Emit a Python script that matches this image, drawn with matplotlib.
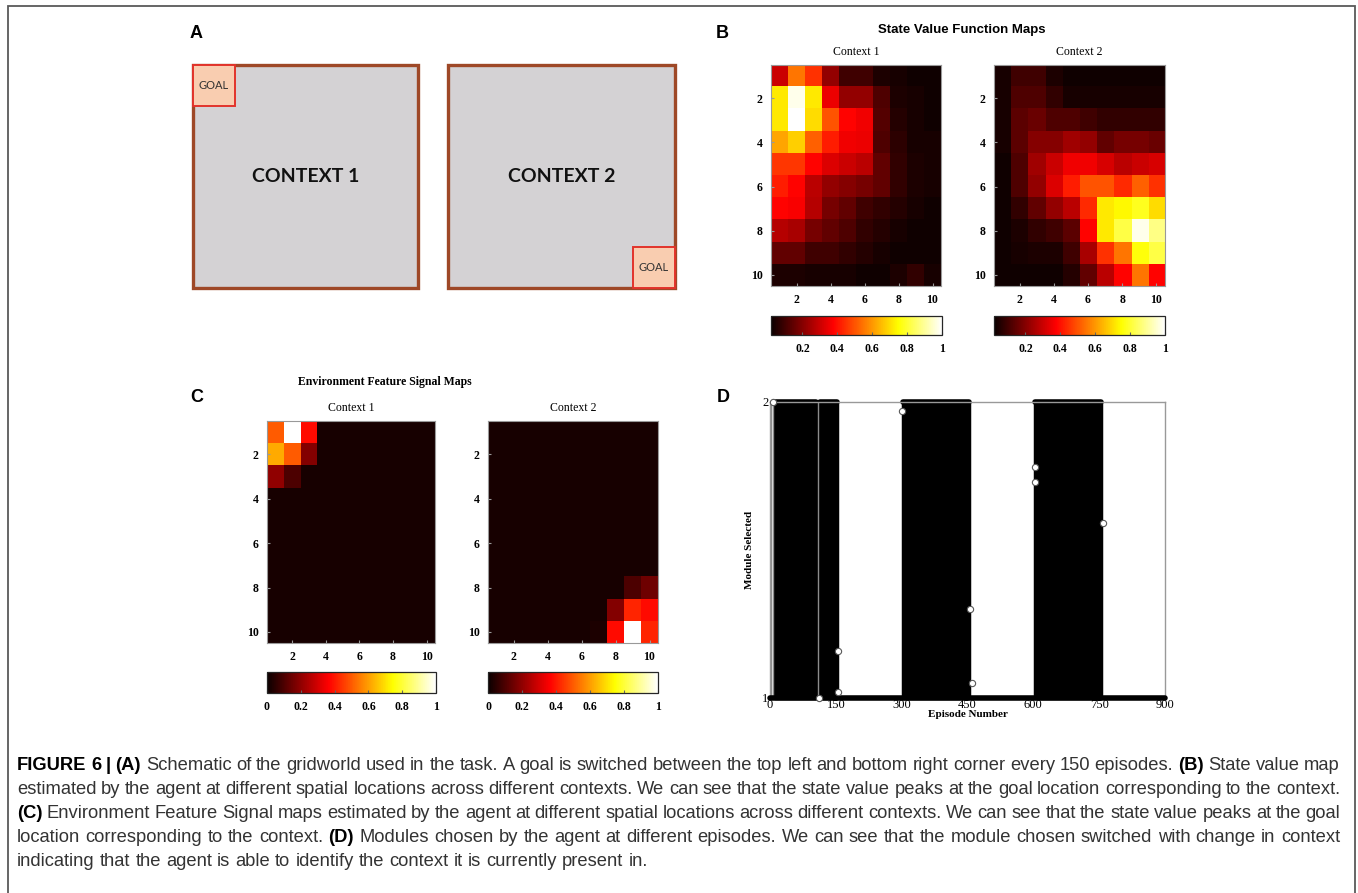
"""
Figure 6 reproduction: gridworld schematic, value maps, feature maps, module switching
"""

import numpy as np
import matplotlib.pyplot as plt
from matplotlib.patches import Rectangle

W, H = 1358, 893

# ============================================================
# DATA
# ============================================================

grid_ticks = [2, 4, 6, 8, 10]
context_names = ["Context 1", "Context 2"]
schematic_labels = ["CONTEXT 1", "CONTEXT 2"]
goal_corners = ["top left", "bottom right"]

# state value maps (rows top -> bottom, cols left -> right)
value_ctx1 = [
    [0.30, 0.55, 0.45, 0.22, 0.10, 0.10, 0.05, 0.04, 0.03, 0.03],
    [0.72, 0.98, 0.72, 0.35, 0.22, 0.22, 0.12, 0.05, 0.04, 0.03],
    [0.72, 1.00, 0.70, 0.50, 0.38, 0.36, 0.13, 0.06, 0.04, 0.03],
    [0.62, 0.68, 0.52, 0.42, 0.36, 0.35, 0.12, 0.07, 0.04, 0.04],
    [0.46, 0.46, 0.38, 0.33, 0.30, 0.28, 0.15, 0.08, 0.05, 0.04],
    [0.42, 0.38, 0.28, 0.22, 0.20, 0.18, 0.15, 0.08, 0.05, 0.04],
    [0.38, 0.37, 0.27, 0.18, 0.15, 0.10, 0.08, 0.06, 0.04, 0.03],
    [0.27, 0.25, 0.18, 0.15, 0.12, 0.08, 0.06, 0.04, 0.03, 0.03],
    [0.15, 0.15, 0.10, 0.10, 0.08, 0.06, 0.04, 0.03, 0.03, 0.03],
    [0.05, 0.05, 0.04, 0.04, 0.04, 0.03, 0.03, 0.05, 0.08, 0.04],
]
value_ctx2 = [
    [0.04, 0.10, 0.10, 0.05, 0.03, 0.03, 0.03, 0.03, 0.03, 0.03],
    [0.04, 0.12, 0.12, 0.08, 0.04, 0.04, 0.04, 0.04, 0.04, 0.04],
    [0.04, 0.14, 0.16, 0.12, 0.12, 0.10, 0.08, 0.08, 0.08, 0.08],
    [0.04, 0.14, 0.20, 0.20, 0.24, 0.22, 0.15, 0.18, 0.18, 0.16],
    [0.03, 0.12, 0.24, 0.30, 0.36, 0.36, 0.32, 0.28, 0.30, 0.32],
    [0.03, 0.12, 0.22, 0.33, 0.42, 0.50, 0.50, 0.44, 0.52, 0.45],
    [0.03, 0.08, 0.15, 0.22, 0.28, 0.44, 0.72, 0.74, 0.78, 0.70],
    [0.03, 0.05, 0.08, 0.10, 0.14, 0.38, 0.72, 0.82, 0.98, 0.88],
    [0.03, 0.04, 0.05, 0.05, 0.10, 0.25, 0.45, 0.55, 0.76, 0.82],
    [0.03, 0.03, 0.03, 0.03, 0.06, 0.15, 0.28, 0.38, 0.55, 0.38],
]

# environment feature signal maps
feature_ctx1 = [
    [0.50, 1.00, 0.38, 0.02, 0.02, 0.02, 0.02, 0.02, 0.02, 0.02],
    [0.62, 0.50, 0.18, 0.02, 0.02, 0.02, 0.02, 0.02, 0.02, 0.02],
    [0.20, 0.10, 0.02, 0.02, 0.02, 0.02, 0.02, 0.02, 0.02, 0.02],
    [0.02, 0.02, 0.02, 0.02, 0.02, 0.02, 0.02, 0.02, 0.02, 0.02],
    [0.02, 0.02, 0.02, 0.02, 0.02, 0.02, 0.02, 0.02, 0.02, 0.02],
    [0.02, 0.02, 0.02, 0.02, 0.02, 0.02, 0.02, 0.02, 0.02, 0.02],
    [0.02, 0.02, 0.02, 0.02, 0.02, 0.02, 0.02, 0.02, 0.02, 0.02],
    [0.02, 0.02, 0.02, 0.02, 0.02, 0.02, 0.02, 0.02, 0.02, 0.02],
    [0.02, 0.02, 0.02, 0.02, 0.02, 0.02, 0.02, 0.02, 0.02, 0.02],
    [0.02, 0.02, 0.02, 0.02, 0.02, 0.02, 0.02, 0.02, 0.02, 0.02],
]
feature_ctx2 = [
    [0.02, 0.02, 0.02, 0.02, 0.02, 0.02, 0.02, 0.02, 0.02, 0.02],
    [0.02, 0.02, 0.02, 0.02, 0.02, 0.02, 0.02, 0.02, 0.02, 0.02],
    [0.02, 0.02, 0.02, 0.02, 0.02, 0.02, 0.02, 0.02, 0.02, 0.02],
    [0.02, 0.02, 0.02, 0.02, 0.02, 0.02, 0.02, 0.02, 0.02, 0.02],
    [0.02, 0.02, 0.02, 0.02, 0.02, 0.02, 0.02, 0.02, 0.02, 0.02],
    [0.02, 0.02, 0.02, 0.02, 0.02, 0.02, 0.02, 0.02, 0.02, 0.02],
    [0.02, 0.02, 0.02, 0.02, 0.02, 0.02, 0.02, 0.02, 0.02, 0.02],
    [0.02, 0.02, 0.02, 0.02, 0.02, 0.02, 0.02, 0.02, 0.10, 0.15],
    [0.02, 0.02, 0.02, 0.02, 0.02, 0.02, 0.02, 0.18, 0.42, 0.38],
    [0.02, 0.02, 0.02, 0.02, 0.02, 0.02, 0.03, 0.38, 1.00, 0.42],
]
value_cbar_ticks = [0.2, 0.4, 0.6, 0.8, 1]
feature_cbar_ticks = [0, 0.2, 0.4, 0.6, 0.8, 1]

# module selection over episodes
episode_ticks = [0, 150, 300, 450, 600, 750, 900]
module_ticks = [1, 2]
# episode ranges where the selected module flips between 1 and 2 every episode
switch_blocks = [(12, 105), (113, 152), (303, 453), (603, 755)]
single_switch_episodes = [3, 7, 110]
stray_episodes = [7, 112, 155, 156, 301, 455, 460, 603, 604, 758]
stray_modules = [2.0, 1.0, 1.16, 1.02, 1.97, 1.30, 1.05, 1.73, 1.78, 1.59]

caption_lines = [
    "*FIGURE* *6* *|* *(A)* Schematic of the gridworld used in the task. A goal is switched between the top left and bottom right corner every 150 episodes. *(B)* State value map",
    "estimated by the agent at different spatial locations across different contexts. We can see that the state value peaks at the goal location corresponding to the context.",
    "*(C)* Environment Feature Signal maps estimated by the agent at different spatial locations across different contexts. We can see that the state value peaks at the goal",
    "location corresponding to the context. *(D)* Modules chosen by the agent at different episodes. We can see that the module chosen switched with change in context",
    "indicating that the agent is able to identify the context it is currently present in.",
]

# ============================================================
# HELPERS
# ============================================================

SERIF = ["Liberation Serif", "DejaVu Serif"]
NARROW = ["Liberation Sans Narrow", "Liberation Sans", "DejaVu Sans"]


def box(x0, y0, x1, y1):
    # pixel box (top-left origin) -> figure fraction rect
    return [x0 / W, 1 - y1 / H, (x1 - x0) / W, (y1 - y0) / H]


def ftext(fig, x, y, s, **kw):
    return fig.text(x / W, 1 - y / H, s, **kw)


def draw_schematic(fig, rect, label, corner):
    ax = fig.add_axes(box(*rect))
    ax.set_xlim(0, 1)
    ax.set_ylim(0, 1)
    ax.axis("off")
    ax.add_patch(Rectangle((0, 0), 1, 1, facecolor="#d4d2d4",
                           edgecolor="#9e4827", lw=2.4, clip_on=False))
    g = 0.185
    gx, gy = (0, 1 - g) if corner == "top left" else (1 - g, 0)
    ax.add_patch(Rectangle((gx, gy), g, g, facecolor="#f9cdb0",
                           edgecolor="#e2332b", lw=1.4, clip_on=False))
    ax.text(gx + g / 2, gy + g / 2, "GOAL", ha="center", va="center",
            fontsize=8, family="Lato", color="#333333")
    ax.text(0.5, 0.5, label, ha="center", va="center", fontsize=14,
            family="Lato", weight="bold", color="#111111")


def draw_map(fig, rect, cbar_rect, data, ticks, vmin, title):
    ax = fig.add_axes(box(*rect))
    im = ax.imshow(np.array(data), cmap="hot", vmin=vmin, vmax=1,
                   aspect="auto", interpolation="nearest",
                   extent=(0.5, 10.5, 10.5, 0.5))
    ax.set_xticks(grid_ticks)
    ax.set_yticks(grid_ticks)
    ax.tick_params(length=2, direction="in", color="0.6", pad=6)
    for lab in ax.get_xticklabels() + ax.get_yticklabels():
        lab.set_family(SERIF)
        lab.set_fontsize(8.5)
        lab.set_weight("bold")
    for sp in ax.spines.values():
        sp.set_color("0.6")
        sp.set_linewidth(0.8)
    ax.set_title(title, fontsize=8.5, family=SERIF, pad=7)

    cax = fig.add_axes(box(*cbar_rect))
    cb = fig.colorbar(im, cax=cax, orientation="horizontal", ticks=ticks)
    cb.ax.set_xticklabels([f"{t:g}" for t in ticks])
    cb.ax.tick_params(length=2, direction="in", pad=6, color="0.4")
    for lab in cb.ax.get_xticklabels():
        lab.set_family(SERIF)
        lab.set_fontsize(8.5)
        lab.set_weight("bold")
    cb.outline.set_linewidth(0.9)
    cb.outline.set_edgecolor("0.15")


def draw_modules(fig, rect):
    ax = fig.add_axes(box(*rect))
    ax.set_xlim(0, 900)
    ax.set_ylim(1, 2)
    for s, e in switch_blocks:
        ax.fill_between([s, e], 1, 2, color="black", lw=2.5, edgecolor="black",
                        clip_on=False)
        ax.plot([s, e], [2, 2], color="black", lw=4, solid_capstyle="round",
                clip_on=False)
    ax.plot([0, 900], [1, 1], color="black", lw=4, solid_capstyle="round",
            clip_on=False, zorder=3)
    for e in single_switch_episodes:
        ax.plot([e, e], [1, 2], color="0.55", lw=1.0)
    ax.plot(stray_episodes, stray_modules, "o", mfc="white", mec="0.35",
            ms=4.5, mew=0.8, clip_on=False, zorder=4)
    ax.set_xticks(episode_ticks)
    ax.set_yticks(module_ticks)
    ax.tick_params(length=0, pad=1)
    for lab in ax.get_xticklabels() + ax.get_yticklabels():
        lab.set_family(SERIF)
        lab.set_fontsize(9)
    for sp in ax.spines.values():
        sp.set_color("0.6")
        sp.set_linewidth(1.0)
    ax.set_xlabel("Episode Number", family=SERIF, weight="bold", fontsize=8,
                  labelpad=-1)
    ax.set_ylabel("Module Selected", family=SERIF, weight="bold", fontsize=8,
                  labelpad=6)


def draw_caption(fig, lines, x0, x1, y0, step, size):
    renderer = fig.canvas.get_renderer()
    kw = dict(fontsize=size, family=NARROW, va="center", ha="left")
    probe = fig.text(0, 0, "a a", **kw)
    probe2 = fig.text(0, 0, "aa", **kw)
    space = (probe.get_window_extent(renderer).width
             - probe2.get_window_extent(renderer).width)
    probe.remove()
    probe2.remove()
    for i, line in enumerate(lines):
        y = y0 + i * step
        texts = []
        for w in line.split(" "):
            bold = w.startswith("*") and w.endswith("*")
            w = w.strip("*")
            texts.append(ftext(fig, 0, y, w, weight="bold" if bold else "normal",
                               color="black" if bold else "#333333", **kw))
        widths = [t.get_window_extent(renderer).width for t in texts]
        last = i == len(lines) - 1
        gap = space if last else (x1 - x0 - sum(widths)) / (len(texts) - 1)
        x = x0
        for t, wd in zip(texts, widths):
            t.set_x(x / W)
            x += wd + gap


# ============================================================
# MAIN
# ============================================================

def main():
    fig = plt.figure(figsize=(W / 100, H / 100), dpi=100)

    # outer frame
    fig.add_artist(Rectangle((8 / W, -0.01), (1355 - 8) / W, 1 - 6 / H + 0.01,
                             transform=fig.transFigure, fill=False,
                             edgecolor="0.35", lw=1.3))

    # panel labels
    for lab, (x, y) in zip("ABCD", [(196, 33), (722, 33), (197, 397), (723, 397)]):
        ftext(fig, x, y, lab, ha="center", va="center", fontsize=13,
              weight="bold", family="Liberation Sans")

    # A
    draw_schematic(fig, (193, 65, 418, 288), schematic_labels[0], goal_corners[0])
    draw_schematic(fig, (448, 65, 675, 288), schematic_labels[1], goal_corners[1])

    # B
    ftext(fig, 962, 30, "State Value Function Maps", ha="center", va="center",
          fontsize=9.5, weight="bold", family=NARROW)
    draw_map(fig, (771, 65, 941, 286), (771, 316, 942, 335), value_ctx1,
             value_cbar_ticks, 0.02, context_names[0])
    draw_map(fig, (994, 65, 1165, 286), (994, 316, 1165, 335), value_ctx2,
             value_cbar_ticks, 0.02, context_names[1])

    # C
    ftext(fig, 385, 382, "Environment Feature Signal Maps", ha="center",
          va="center", fontsize=8.5, weight="bold", family=SERIF)
    draw_map(fig, (267, 421, 435, 643), (267, 672, 436, 693), feature_ctx1,
             feature_cbar_ticks, 0, context_names[0])
    draw_map(fig, (488, 421, 658, 643), (488, 672, 658, 693), feature_ctx2,
             feature_cbar_ticks, 0, context_names[1])

    # D
    draw_modules(fig, (770, 402, 1165, 698))

    draw_caption(fig, caption_lines, 17, 1340, 765, 24, 13.2)

    fig.savefig("out.png", dpi=100)


if __name__ == "__main__":
    main()
